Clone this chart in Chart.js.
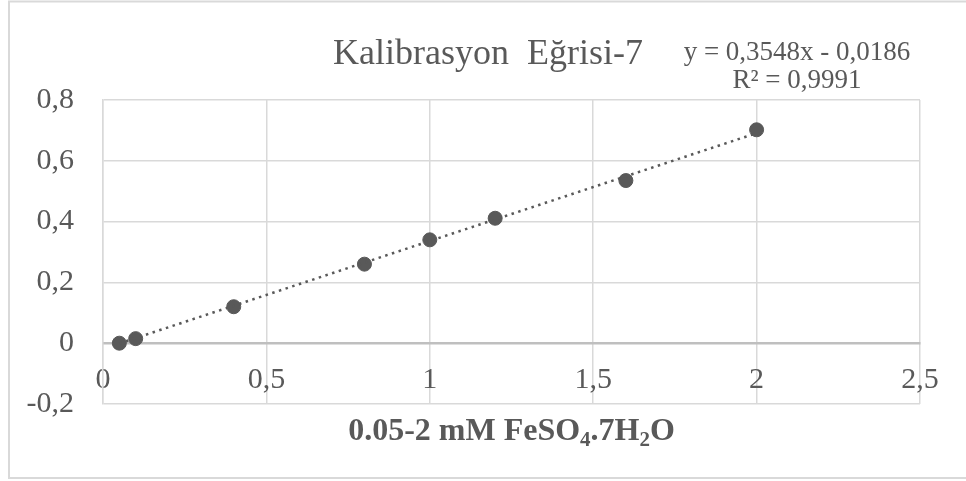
<!DOCTYPE html>
<html>
<head>
<meta charset="utf-8">
<script src="https://cdn.jsdelivr.net/npm/chart.js@4.4.1/dist/chart.umd.min.js"></script>
<style>
html,body{margin:0;padding:0;background:#fff;}
#wrap{position:relative;width:966px;height:481px;}
</style>
</head>
<body>
<div id="wrap"><canvas id="c" width="966" height="481"></canvas></div>
<script>
// ---- data ----
const concentrations = [0.05, 0.1, 0.4, 0.8, 1.0, 1.2, 1.6, 2.0];
const absorbances    = [0.0, 0.015, 0.12, 0.26, 0.34, 0.411, 0.535, 0.702];
const trendX = [0.05, 2.0];
const trendY = [-0.0009, 0.6910];
const xTickLabels = ['0', '0,5', '1', '1,5', '2', '2,5'];
const yTickLabels = ['-0,2', '0', '0,2', '0,4', '0,6', '0,8'];
const chartTitle = 'Kalibrasyon  Eğrisi-7';
const equationLines = ['y = 0,3548x - 0,0186', 'R² = 0,9991'];
const axisTitleParts = [['0.05-2 mM FeSO', false], ['4', true], ['.7H', false], ['2', true], ['O', false]];

const TXT = '#595959';
const FONT = '"Liberation Serif", "Times New Roman", serif';

const decor = {
  id: 'decor',
  beforeDraw(chart) {
    const ctx = chart.ctx;
    ctx.save();
    ctx.fillStyle = '#fff';
    ctx.fillRect(0, 0, chart.width, chart.height);
    ctx.strokeStyle = '#d9d9d9';
    ctx.lineWidth = 2;
    ctx.strokeRect(9, 1.5, 970, 476.5);
    ctx.restore();
  },
  afterDraw(chart) {
    const ctx = chart.ctx;
    const area = chart.chartArea;
    ctx.save();
    ctx.fillStyle = TXT;
    ctx.textBaseline = 'alphabetic';
    // title
    ctx.font = '36px ' + FONT;
    ctx.textAlign = 'center';
    ctx.fillText(chartTitle, 488, 64);
    // equation
    ctx.font = '27px ' + FONT;
    ctx.fillText(equationLines[0], 797, 60);
    ctx.fillText(equationLines[1], 797, 88);
    // axis title with subscripts
    const big = 'bold 32px ' + FONT, small = 'bold 21px ' + FONT;
    let total = 0;
    axisTitleParts.forEach(p => { ctx.font = p[1] ? small : big; total += ctx.measureText(p[0]).width; });
    let x = (area.left + area.right) / 2 - total / 2;
    ctx.textAlign = 'left';
    axisTitleParts.forEach(p => {
      ctx.font = p[1] ? small : big;
      ctx.fillText(p[0], x, p[1] ? 446 : 440);
      x += ctx.measureText(p[0]).width;
    });
    ctx.restore();
  }
};

new Chart(document.getElementById('c'), {
  type: 'scatter',
  data: {
    datasets: [
      {
        type: 'line',
        data: trendX.map((x, i) => ({x: x, y: trendY[i]})),
        borderColor: '#595959',
        borderWidth: 2.5,
        borderDash: [2.5, 4.5],
        pointRadius: 0,
        fill: false
      },
      {
        data: concentrations.map((x, i) => ({x: x, y: absorbances[i]})),
        backgroundColor: '#595959',
        borderColor: '#595959',
        pointRadius: 7,
        pointHoverRadius: 7
      }
    ]
  },
  options: {
    responsive: false,
    animation: false,
    events: [],
    layout: { padding: { left: 0, right: 46, top: 100, bottom: 77 } },
    plugins: { legend: { display: false }, tooltip: { enabled: false }, title: { display: false } },
    scales: {
      x: {
        type: 'linear',
        position: { y: 0 },
        min: 0, max: 2.5,
        afterBuildTicks(s) { s.ticks = xTickLabels.map((_, i) => ({value: i * 0.5})); },
        ticks: {
          callback: (v, i) => xTickLabels[i],
          color: TXT,
          font: { family: FONT, size: 30 },
          padding: 19
        },
        grid: { color: '#d9d9d9', lineWidth: 1.5, drawTicks: false },
        border: { display: true, color: '#bfbfbf', width: 2.5 }
      },
      y: {
        type: 'linear',
        min: -0.2, max: 0.8,
        afterBuildTicks(s) { s.ticks = yTickLabels.map((_, i) => ({value: -0.2 + i * 0.2})); },
        afterFit(s) { s.width = 103; },
        ticks: {
          callback: (v, i) => yTickLabels[i],
          color: TXT,
          font: { family: FONT, size: 30 },
          padding: 29
        },
        grid: { color: '#d9d9d9', lineWidth: 1.5, drawTicks: false },
        border: { display: true, color: '#d9d9d9', width: 1.5 }
      }
    }
  },
  plugins: [decor]
});
</script>
</body>
</html>
